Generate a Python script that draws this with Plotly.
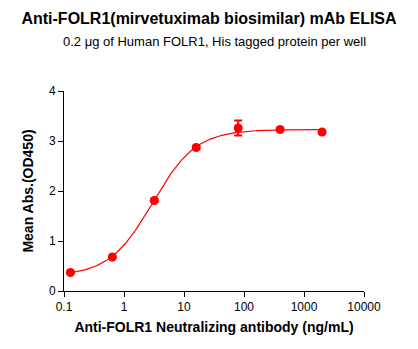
import numpy as np
import plotly.graph_objects as go

conc = [0.128, 0.64, 3.2, 16, 80, 400, 2000]
od450 = [0.37, 0.68, 1.81, 2.87, 3.26, 3.23, 3.18]
od_err = [0.02, 0.02, 0.03, 0.03, 0.15, 0.03, 0.03]

# 4PL fit parameters (bottom, top, EC50, hill) estimated from the fitted curve
fit_bottom, fit_top, fit_ec50, fit_hill = 0.30, 3.23, 3.0, 1.2

xc = np.logspace(np.log10(conc[0]), np.log10(conc[-1]), 300)
yc = fit_bottom + (fit_top - fit_bottom) / (1 + (fit_ec50 / xc) ** fit_hill)

red = "#FF0000"
fig = go.Figure()
fig.add_trace(go.Scatter(x=xc, y=yc, mode="lines", line=dict(color=red, width=1.2),
                         hoverinfo="skip", showlegend=False))
fig.add_trace(go.Scatter(x=conc, y=od450, mode="markers",
                         marker=dict(color=red, size=9),
                         error_y=dict(type="data", array=od_err, color=red, thickness=2, width=4),
                         showlegend=False))

W, H = 418, 349
T, B = 91, 58
ph = H - T - B
fig.update_layout(
    width=W, height=H,
    margin=dict(l=64, r=54, t=T, b=B),
    paper_bgcolor="white", plot_bgcolor="white",
    font=dict(family="Arial, Liberation Sans, sans-serif", color="black", size=12),
    title=dict(text="<b>Anti-FOLR1(mirvetuximab biosimilar) mAb ELISA</b>",
               x=0.5, xanchor="center", y=1 - 18 / H, yanchor="middle",
               yref="container", font=dict(size=16, color="black")),
    annotations=[dict(text="0.2 μg of Human FOLR1, His tagged protein per well",
                      x=0.5, xref="paper", y=(H - B - 41) / ph, yref="paper",
                      xanchor="center", yanchor="middle", showarrow=False,
                      font=dict(size=13, color="black"))],
    xaxis=dict(type="log", range=[-1, 4], showgrid=False, zeroline=False,
               showline=True, linecolor="black", linewidth=1,
               ticks="outside", ticklen=5, tickcolor="black",
               tickvals=[0.1, 1, 10, 100, 1000, 10000],
               ticktext=["0.1", "1", "10", "100", "1000", "10000"],
               title=dict(text="<b>Anti-FOLR1 Neutralizing antibody (ng/mL)</b>",
                          font=dict(size=14), standoff=8)),
    yaxis=dict(range=[0, 4], showgrid=False, zeroline=False,
               showline=True, linecolor="black", linewidth=1,
               ticks="outside", ticklen=5, tickcolor="black",
               tickvals=[0, 1, 2, 3, 4],
               title=dict(text="<b>Mean Abs.(OD450)</b>", font=dict(size=14), standoff=12)),
)
fig.write_html("out.html")
